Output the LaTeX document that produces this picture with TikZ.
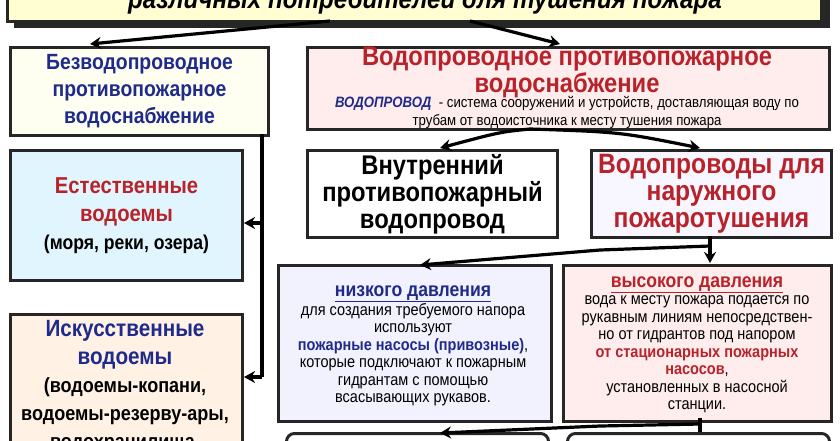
\documentclass[tikz,border=0pt]{standalone}
\usepackage{fontspec}
\setmainfont[FakeStretch=0.88]{Liberation Sans}
\usetikzlibrary{arrows.meta}
\definecolor{dblue}{HTML}{1F2A8A}
\definecolor{dred}{HTML}{B8232B}
\tikzset{
 bx/.style={draw=black!85,line width=3pt,align=center,inner sep=0pt,anchor=north west},
 ar/.style={line width=3.2pt,-{Stealth[length=11pt,width=12pt]}},
 ln/.style={line width=3.2pt}
}
\begin{document}
\begin{tikzpicture}[x=1pt,y=-1pt,font=\bfseries]
\useasboundingbox[fill=white] (0,0) rectangle (840,440);
% top box
\fill[black!85] (14,-40) rectangle (830,28);
\node[bx,fill=yellow!18,minimum width=814pt,minimum height=58pt] (top) at (6,-38) {};
\node[font=\bfseries\itshape\fontsize{27.5}{28}\selectfont] (toptxt) at (425,1) {различных потребителей для тушения пожара};
\coordinate (t1) at (330,21); \coordinate (t2) at (470,21);
% A
\node[bx,fill=green!4!yellow!6,minimum width=258pt,minimum height=88pt,text=dblue,font=\bfseries\fontsize{22}{27}\selectfont] (A) at (9,46) {Безводопроводное\\противопожарное\\водоснабжение};
% B
\node[bx,fill=red!7,minimum width=522pt,minimum height=82pt] (B) at (306,46) {};
\node[text=dred,font=\bfseries\fontsize{27}{27}\selectfont,align=center] (Bt) at (567,72) {Водопроводное противопожарное\\водоснабжение};
\node[font=\fontsize{15}{18}\selectfont,align=center] (Bs) at (567,112) {{\color{dblue}\bfseries\itshape ВОДОПРОВОД} \ - система сооружений и устройств, доставляющая воду по\\трубам от водоисточника к месту тушения пожара};
\draw[ar] (t1) -- (90,44);
\draw[ar] (t2) -- (560,44);
% C, D
\node[bx,fill=cyan!12,minimum width=232pt,minimum height=130pt,font=\bfseries\fontsize{23}{28}\selectfont] (C) at (9,149) {\textcolor{dred}{Естественные}\\\textcolor{dred}{водоемы}\\{\fontsize{20}{24}\selectfont(моря, реки, озера)}};
\node[bx,fill=orange!10,minimum width=232pt,minimum height=140pt,anchor=north west] (D) at (9,313) {};
\node[align=center,font=\bfseries\fontsize{23.5}{28}\selectfont,anchor=north] (Dt) at (125,317) {\textcolor{dblue}{Искусственные}\\\textcolor{dblue}{водоемы}\\{\fontsize{20.5}{26}\selectfont(водоемы-копани,}\\{\fontsize{20.5}{26}\selectfont водоемы-резерву-ары,}\\{\fontsize{20.5}{26}\selectfont водохранилища,}};
\coordinate (v0) at (262,134); \coordinate (v1) at (262,223); \coordinate (v2) at (262,377);
\draw[ln] (v0) -- (v2);
\draw[ar] (v1) -- (C.east|-v1);
\draw[ar] (v2) -- (D.east|-v2);
% E, F
\coordinate (b0) at (530,129);
\node[bx,fill=white,minimum width=250pt,minimum height=87pt,font=\bfseries\fontsize{27}{27}\selectfont] (E) at (306,149) {Внутренний\\противопожарный\\водопровод};
\node[bx,fill=red!3!blue!3,minimum width=240pt,minimum height=87pt,text=dred,font=\bfseries\fontsize{28}{27}\selectfont] (F) at (590,149) {Водопроводы для\\наружного\\пожаротушения};
\draw[ar] (b0) .. controls (500,132) .. (440,148);
\draw[ar] (b0) .. controls (620,132) .. (700,148);
% G, H
\node[bx,fill=blue!5,minimum width=273pt,minimum height=156pt,anchor=north west] (G) at (277,264) {};
\node[bx,fill=red!7,minimum width=268pt,minimum height=156pt,anchor=north west] (H) at (562,264) {};
\node[align=center,font=\fontsize{16.5}{17.5}\selectfont,anchor=north] (Gt) at (413,282) {{\color{dblue}\bfseries\fontsize{20}{20}\selectfont\underline{низкого давления}}\\для создания требуемого напора\\используют\\{\color{dblue}\bfseries пожарные насосы (привозные)},\\которые подключают к пожарным\\гидрантам с помощью\\всасывающих рукавов.};
\node[align=center,font=\fontsize{16.5}{17.5}\selectfont,anchor=north] (Ht) at (697,273) {{\color{dred}\bfseries\fontsize{20}{20}\selectfont\underline{высокого давления}}\\вода к месту пожара подается по\\рукавным линиям непосредствен-\\но от гидрантов под напором\\{\color{dred}\bfseries от стационарных пожарных}\\{\color{dred}\bfseries насосов},\\установленных в насосной\\станции.};
\coordinate (f0) at (710,236); \coordinate (f1) at (710,246);
\draw[ln] (f0) -- (f1);
\draw[ar] (f1) -- (710,263);
\draw[ar] (f1) -- (600,250) -- (420,265);
% bottom
\node[draw=black!85,line width=3pt,rounded corners=8pt,minimum width=262pt,minimum height=30pt,anchor=north west] (I) at (285,432) {};
\node[draw=black!85,line width=3pt,rounded corners=8pt,minimum width=262pt,minimum height=30pt,anchor=north west] (J) at (566,432) {};
\coordinate (h0) at (700,418);
\draw[ln] (h0) -- (700,432);
\draw[ar] (700,424) -- (600,426) -- (440,433);
\end{tikzpicture}
\end{document}
